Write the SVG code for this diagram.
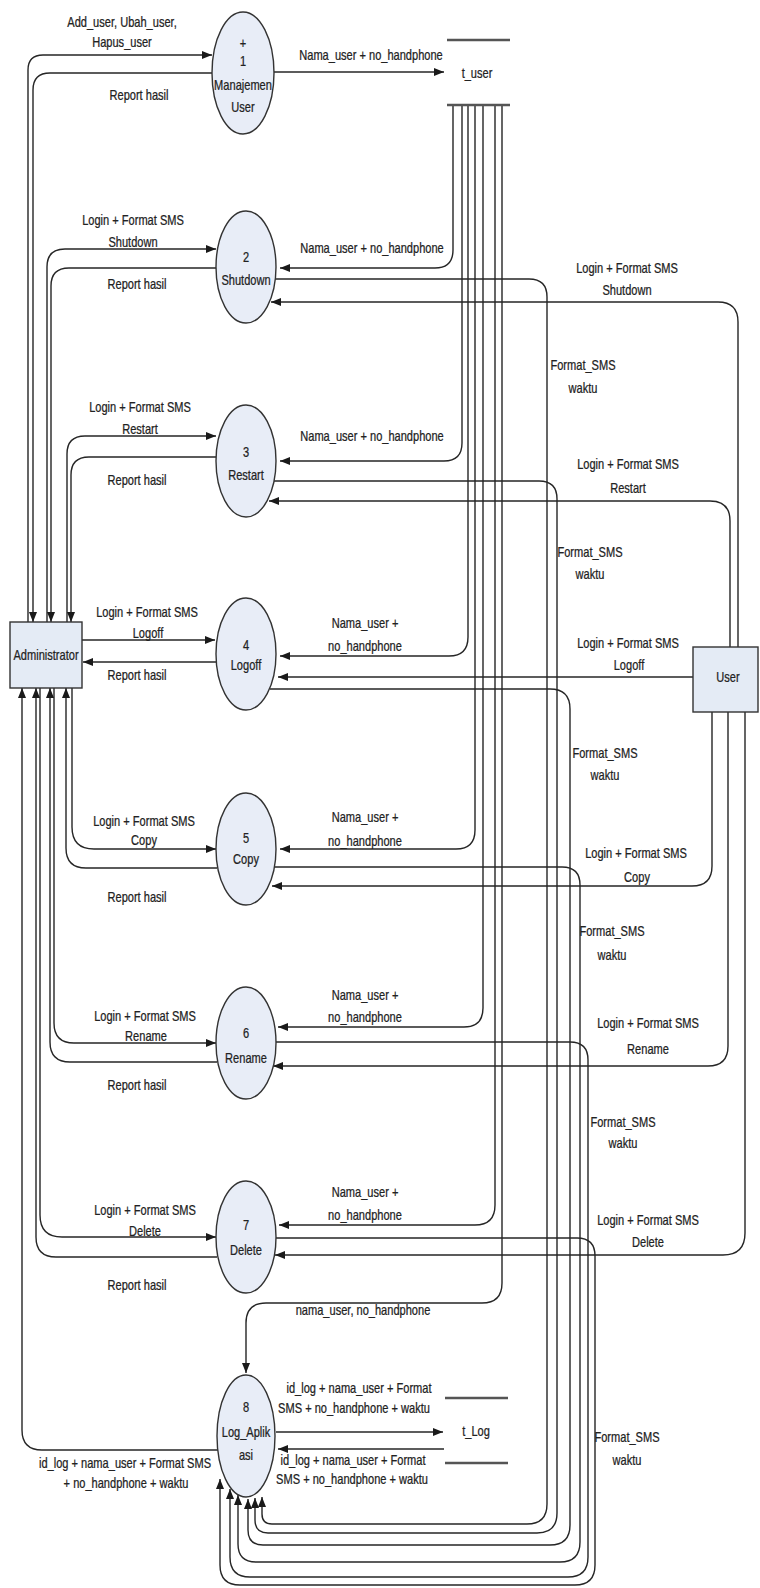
<svg xmlns="http://www.w3.org/2000/svg" width="760" height="1588" viewBox="0 0 760 1588">
<style>
.ln{fill:none;stroke:#262626;stroke-width:1.4}
.ar{marker-end:url(#ah)}
.proc{fill:#e8edf7;stroke:#333;stroke-width:1.4}
.ent{fill:#e4ebf5;stroke:#333;stroke-width:1.4}
.ds{stroke:#555;stroke-width:2.5}
text{font-family:"Liberation Sans",Arial,sans-serif;font-size:14px;fill:#222;stroke:#222;stroke-width:0.25;text-anchor:middle}
</style>
<defs>
<marker id="ah" markerWidth="10" markerHeight="8" refX="10" refY="4" orient="auto" markerUnits="userSpaceOnUse"><path d="M0,0 L10,4 L0,8 z" fill="#1a1a1a"/></marker>
</defs>
<rect width="760" height="1588" fill="#fff"/>
<g id="connectors">
<path class="ln ar" d="M28 622 V70 Q28 55 43 55 H212"/>
<path class="ln ar" d="M212 73 H50 Q33 73 33 90 V622"/>
<path class="ln ar" d="M47 622 V267 Q47 249 65 249 H216"/>
<path class="ln ar" d="M217 268 H69 Q51 268 51 286 V622"/>
<path class="ln ar" d="M67 622 V454 Q67 436 85 436 H216"/>
<path class="ln ar" d="M216 457 H89 Q71 457 71 475 V622"/>
<path class="ln ar" d="M82 640 H215"/>
<path class="ln ar" d="M216 662 H83"/>
<path class="ln ar" d="M72 688 V827 Q72 849 94 849 H216"/>
<path class="ln ar" d="M217 868 H86 Q66 868 66 848 V688"/>
<path class="ln ar" d="M54 688 V1023 Q54 1043 74 1043 H216"/>
<path class="ln ar" d="M217 1062 H70 Q50 1062 50 1042 V688"/>
<path class="ln ar" d="M40 688 V1215 Q40 1237 62 1237 H216"/>
<path class="ln ar" d="M217 1257 H56 Q36 1257 36 1237 V688"/>
<path class="ln ar" d="M218 1450 H42 Q22 1450 22 1430 V688"/>
<path class="ln ar" d="M274 72 H444"/>
<path class="ln ar" d="M453 105 V250 Q453 268 435 268 H280"/>
<path class="ln ar" d="M462 105 V443 Q462 461 444 461 H280"/>
<path class="ln ar" d="M468 105 V637 Q468 656 449 656 H280"/>
<path class="ln ar" d="M475 105 V830 Q475 849 456 849 H280"/>
<path class="ln ar" d="M483 105 V1008 Q483 1027 464 1027 H278"/>
<path class="ln ar" d="M495 105 V1205 Q495 1225 475 1225 H279"/>
<path class="ln ar" d="M502 105 V1283 Q502 1303 482 1303 H266 Q246 1303 246 1323 V1373"/>
<path class="ln ar" d="M738 647 V322 Q738 302 718 302 H271"/>
<path class="ln ar" d="M730 647 V521 Q730 501 710 501 H269"/>
<path class="ln ar" d="M693 677 H278"/>
<path class="ln ar" d="M712 712 V866 Q712 886 692 886 H272"/>
<path class="ln ar" d="M728 712 V1046 Q728 1066 708 1066 H273"/>
<path class="ln ar" d="M745 712 V1233 Q745 1255 723 1255 H275"/>
<path class="ln ar" d="M275 279 H529 Q547 279 547 297 V1504 Q547 1524 527 1524 H272 Q262 1524 262 1514 V1497"/>
<path class="ln ar" d="M274 481 H539 Q557 481 557 499 V1513 Q557 1533 537 1533 H268 Q255 1533 255 1520 V1498"/>
<path class="ln ar" d="M270 689 H550 Q570 689 570 709 V1525 Q570 1545 550 1545 H263 Q248 1545 248 1530 V1499"/>
<path class="ln ar" d="M274 867 H562 Q580 867 580 885 V1542 Q580 1562 560 1562 H256 Q238 1562 238 1544 V1495"/>
<path class="ln ar" d="M276 1042 H570 Q588 1042 588 1060 V1557 Q588 1577 568 1577 H250 Q230 1577 230 1557 V1489"/>
<path class="ln ar" d="M276 1238 H577 Q595 1238 595 1256 V1565 Q595 1585 575 1585 H240 Q220 1585 220 1565 V1479"/>
<path class="ln ar" d="M276 1432 H443"/>
<path class="ln ar" d="M444 1449 H278"/>
</g>
<g id="t_user">
<line class="ds" x1="447" y1="40" x2="510" y2="40"/>
<line class="ds" x1="447" y1="105" x2="510" y2="105"/>
<text transform="translate(477 78) scale(.79 1)">t_user</text>
</g>
<g id="t_log">
<line class="ds" x1="445" y1="1398" x2="508" y2="1398"/>
<line class="ds" x1="445" y1="1463" x2="508" y2="1463"/>
<text transform="translate(476 1436) scale(.79 1)">t_Log</text>
</g>
<g id="administrator">
<rect class="ent" x="10" y="622" width="72" height="66"/>
<text transform="translate(46 660) scale(.79 1)">Administrator</text>
</g>
<g id="user">
<rect class="ent" x="693" y="647" width="65" height="65"/>
<text transform="translate(728 682) scale(.79 1)">User</text>
</g>
<g id="p1">
<ellipse class="proc" cx="243" cy="73" rx="31" ry="61"/>
<text transform="translate(243 48) scale(.79 1)">+</text>
<text transform="translate(243 66) scale(.79 1)">1</text>
<text transform="translate(243 90) scale(.79 1)">Manajemen</text>
<text transform="translate(243 112) scale(.79 1)">User</text>
</g>
<g id="p2">
<ellipse class="proc" cx="246" cy="267" rx="30" ry="56"/>
<text transform="translate(246 262) scale(.79 1)">2</text>
<text transform="translate(246 285) scale(.79 1)">Shutdown</text>
</g>
<g id="p3">
<ellipse class="proc" cx="246" cy="461" rx="30" ry="56"/>
<text transform="translate(246 457) scale(.79 1)">3</text>
<text transform="translate(246 480) scale(.79 1)">Restart</text>
</g>
<g id="p4">
<ellipse class="proc" cx="246" cy="654" rx="30" ry="56"/>
<text transform="translate(246 650) scale(.79 1)">4</text>
<text transform="translate(246 670) scale(.79 1)">Logoff</text>
</g>
<g id="p5">
<ellipse class="proc" cx="246" cy="849" rx="30" ry="56"/>
<text transform="translate(246 843) scale(.79 1)">5</text>
<text transform="translate(246 864) scale(.79 1)">Copy</text>
</g>
<g id="p6">
<ellipse class="proc" cx="246" cy="1043" rx="30" ry="56"/>
<text transform="translate(246 1038) scale(.79 1)">6</text>
<text transform="translate(246 1063) scale(.79 1)">Rename</text>
</g>
<g id="p7">
<ellipse class="proc" cx="246" cy="1237" rx="30" ry="56"/>
<text transform="translate(246 1230) scale(.79 1)">7</text>
<text transform="translate(246 1255) scale(.79 1)">Delete</text>
</g>
<g id="p8">
<ellipse class="proc" cx="246" cy="1436" rx="29" ry="61"/>
<text transform="translate(246 1412) scale(.79 1)">8</text>
<text transform="translate(246 1437) scale(.79 1)">Log_Aplik</text>
<text transform="translate(246 1460) scale(.79 1)">asi</text>
</g>
<g id="labels">
<text transform="translate(122 27) scale(.79 1)">Add_user, Ubah_user,</text>
<text transform="translate(122 47) scale(.79 1)">Hapus_user</text>
<text transform="translate(139 100) scale(.79 1)">Report hasil</text>
<text transform="translate(371 60) scale(.79 1)">Nama_user + no_handphone</text>
<text transform="translate(133 225) scale(.79 1)">Login + Format SMS</text>
<text transform="translate(133 247) scale(.79 1)">Shutdown</text>
<text transform="translate(137 289) scale(.79 1)">Report hasil</text>
<text transform="translate(372 253) scale(.79 1)">Nama_user + no_handphone</text>
<text transform="translate(140 412) scale(.79 1)">Login + Format SMS</text>
<text transform="translate(140 434) scale(.79 1)">Restart</text>
<text transform="translate(137 485) scale(.79 1)">Report hasil</text>
<text transform="translate(372 441) scale(.79 1)">Nama_user + no_handphone</text>
<text transform="translate(147 617) scale(.79 1)">Login + Format SMS</text>
<text transform="translate(148 638) scale(.79 1)">Logoff</text>
<text transform="translate(137 680) scale(.79 1)">Report hasil</text>
<text transform="translate(365 628) scale(.79 1)">Nama_user +</text>
<text transform="translate(365 651) scale(.79 1)">no_handphone</text>
<text transform="translate(144 826) scale(.79 1)">Login + Format SMS</text>
<text transform="translate(144 845) scale(.79 1)">Copy</text>
<text transform="translate(137 902) scale(.79 1)">Report hasil</text>
<text transform="translate(365 822) scale(.79 1)">Nama_user +</text>
<text transform="translate(365 846) scale(.79 1)">no_handphone</text>
<text transform="translate(145 1021) scale(.79 1)">Login + Format SMS</text>
<text transform="translate(146 1041) scale(.79 1)">Rename</text>
<text transform="translate(137 1090) scale(.79 1)">Report hasil</text>
<text transform="translate(365 1000) scale(.79 1)">Nama_user +</text>
<text transform="translate(365 1022) scale(.79 1)">no_handphone</text>
<text transform="translate(145 1215) scale(.79 1)">Login + Format SMS</text>
<text transform="translate(145 1236) scale(.79 1)">Delete</text>
<text transform="translate(137 1290) scale(.79 1)">Report hasil</text>
<text transform="translate(365 1197) scale(.79 1)">Nama_user +</text>
<text transform="translate(365 1220) scale(.79 1)">no_handphone</text>
<text transform="translate(363 1315) scale(.79 1)">nama_user, no_handphone</text>
<text transform="translate(359 1393) scale(.79 1)">id_log + nama_user + Format</text>
<text transform="translate(354 1413) scale(.79 1)">SMS + no_handphone + waktu</text>
<text transform="translate(353 1465) scale(.79 1)">id_log + nama_user + Format</text>
<text transform="translate(352 1484) scale(.79 1)">SMS + no_handphone + waktu</text>
<text transform="translate(125 1468) scale(.79 1)">id_log + nama_user + Format SMS</text>
<text transform="translate(126 1488) scale(.79 1)">+ no_handphone + waktu</text>
<text transform="translate(627 273) scale(.79 1)">Login + Format SMS</text>
<text transform="translate(627 295) scale(.79 1)">Shutdown</text>
<text transform="translate(628 469) scale(.79 1)">Login + Format SMS</text>
<text transform="translate(628 493) scale(.79 1)">Restart</text>
<text transform="translate(628 648) scale(.79 1)">Login + Format SMS</text>
<text transform="translate(629 670) scale(.79 1)">Logoff</text>
<text transform="translate(636 858) scale(.79 1)">Login + Format SMS</text>
<text transform="translate(637 882) scale(.79 1)">Copy</text>
<text transform="translate(648 1028) scale(.79 1)">Login + Format SMS</text>
<text transform="translate(648 1054) scale(.79 1)">Rename</text>
<text transform="translate(648 1225) scale(.79 1)">Login + Format SMS</text>
<text transform="translate(648 1247) scale(.79 1)">Delete</text>
<text transform="translate(583 370) scale(.79 1)">Format_SMS</text>
<text transform="translate(583 393) scale(.79 1)">waktu</text>
<text transform="translate(590 557) scale(.79 1)">Format_SMS</text>
<text transform="translate(590 579) scale(.79 1)">waktu</text>
<text transform="translate(605 758) scale(.79 1)">Format_SMS</text>
<text transform="translate(605 780) scale(.79 1)">waktu</text>
<text transform="translate(612 936) scale(.79 1)">Format_SMS</text>
<text transform="translate(612 960) scale(.79 1)">waktu</text>
<text transform="translate(623 1127) scale(.79 1)">Format_SMS</text>
<text transform="translate(623 1148) scale(.79 1)">waktu</text>
<text transform="translate(627 1442) scale(.79 1)">Format_SMS</text>
<text transform="translate(627 1465) scale(.79 1)">waktu</text>
</g>
</svg>
